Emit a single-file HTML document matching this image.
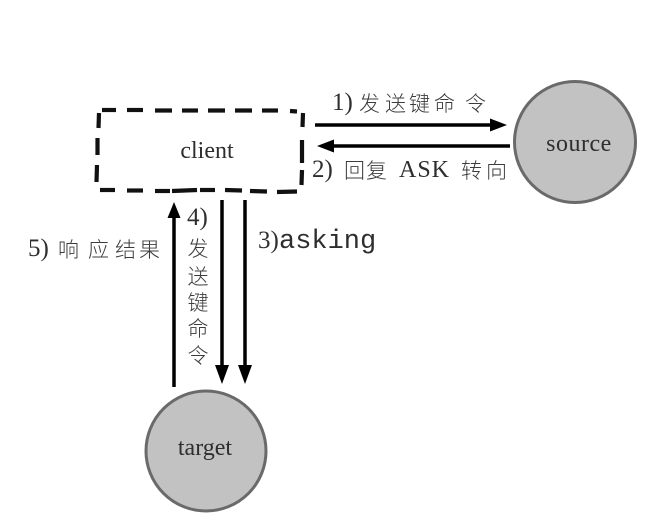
<!DOCTYPE html>
<html>
<head>
<meta charset="utf-8">
<style>
  html,body{margin:0;padding:0;background:#fff;}
  svg{display:block;}
  .serif{font-family:"Liberation Serif","Noto Serif CJK SC",serif;fill:#2e2e2e;}
  .cjk{font-family:"Noto Sans CJK SC","WenQuanYi Zen Hei",sans-serif;fill:#3c3c3c;font-weight:300;}
  .mono{font-family:"Liberation Mono",monospace;fill:#2e2e2e;}
</style>
</head>
<body>
<svg width="653" height="524" viewBox="0 0 653 524" xmlns="http://www.w3.org/2000/svg">
  <rect width="653" height="524" fill="#fff"/>

  <!-- client dashed box -->
  <g stroke="#111" stroke-width="4.2" stroke-linecap="butt" fill="none">
    <!-- top -->
    <line x1="102" y1="110" x2="116" y2="110"/>
    <line x1="127" y1="110" x2="143" y2="110"/>
    <line x1="155" y1="110.5" x2="172" y2="110.5"/>
    <line x1="182" y1="110.5" x2="198" y2="110.5"/>
    <line x1="208" y1="110.5" x2="225" y2="110.5"/>
    <line x1="235" y1="110.5" x2="252" y2="110.5"/>
    <line x1="262" y1="110.5" x2="278" y2="110.5"/>
    <line x1="290" y1="111" x2="297" y2="111.5"/>
    <!-- left -->
    <line x1="99" y1="113" x2="98.5" y2="128"/>
    <line x1="97.5" y1="138" x2="97.5" y2="155"/>
    <line x1="97" y1="165" x2="96.5" y2="182"/>
    <!-- right -->
    <line x1="303" y1="113" x2="302.5" y2="127"/>
    <line x1="302" y1="140" x2="302" y2="163"/>
    <line x1="302" y1="170" x2="301.5" y2="185"/>
    <!-- bottom -->
    <line x1="100" y1="190" x2="115" y2="190"/>
    <line x1="127" y1="190.5" x2="143" y2="190.5"/>
    <line x1="155" y1="191" x2="170" y2="191"/>
    <line x1="172" y1="191" x2="197" y2="190"/>
    <line x1="200" y1="190" x2="215" y2="190"/>
    <line x1="225" y1="190" x2="242" y2="190.5"/>
    <line x1="250" y1="191" x2="267" y2="191.5"/>
    <line x1="277" y1="192" x2="297" y2="191.5"/>
  </g>
  <text class="serif" x="207" y="158" font-size="24" text-anchor="middle">client</text>

  <!-- source circle -->
  <circle cx="575" cy="142" r="60.5" fill="#c2c2c2" stroke="#6a6a6a" stroke-width="3"/>
  <text class="serif" x="579" y="151" font-size="24" text-anchor="middle" letter-spacing="0.5">source</text>

  <!-- target circle -->
  <circle cx="206" cy="451" r="60" fill="#c2c2c2" stroke="#6a6a6a" stroke-width="3"/>
  <text class="serif" x="205" y="455" font-size="24" text-anchor="middle">target</text>

  <!-- arrows -->
  <g stroke="#000" stroke-width="3.5" fill="none">
    <line x1="315" y1="125" x2="494" y2="125"/>
    <line x1="510" y1="146" x2="331" y2="146"/>
    <line x1="174" y1="387" x2="174" y2="214"/>
    <line x1="222" y1="200" x2="222" y2="370"/>
    <line x1="245" y1="200" x2="245" y2="370"/>
  </g>
  <g fill="#000">
    <polygon points="507,125 490,118.5 490,131.5"/>
    <polygon points="317,146 334,139.5 334,152.5"/>
    <polygon points="174,202 167.5,218 180.5,218"/>
    <polygon points="222,384 215,365 229,365"/>
    <polygon points="245,384 238,365 252,365"/>
  </g>

  <!-- label 1 -->
  <text class="serif" x="332" y="110" font-size="25">1)</text>
  <text class="cjk" y="111" font-size="21">
    <tspan x="359">发</tspan><tspan x="385">送</tspan><tspan x="409">键</tspan><tspan x="434">命</tspan><tspan x="465">令</tspan>
  </text>

  <!-- label 2 -->
  <text class="serif" x="312" y="177" font-size="25">2)</text>
  <text class="cjk" y="178" font-size="21"><tspan x="344">回</tspan><tspan x="366">复</tspan></text>
  <text class="serif" x="399" y="177" font-size="24" letter-spacing="1">ASK</text>
  <text class="cjk" y="178" font-size="21"><tspan x="461">转</tspan><tspan x="486">向</tspan></text>

  <!-- label 5 -->
  <text class="serif" x="28" y="256" font-size="25">5)</text>
  <text class="cjk" y="257" font-size="21"><tspan x="58">响</tspan><tspan x="88">应</tspan><tspan x="115">结</tspan><tspan x="139">果</tspan></text>

  <!-- label 3 -->
  <text class="serif" x="258" y="248" font-size="25">3)</text>
  <text class="mono" x="279" y="248" font-size="27">asking</text>

  <!-- label 4 vertical -->
  <text class="serif" x="187" y="225" font-size="25">4)</text>
  <g class="cjk" font-size="21" text-anchor="middle">
    <text x="198" y="256">发</text>
    <text x="198" y="284">送</text>
    <text x="198" y="310">键</text>
    <text x="198" y="336">命</text>
    <text x="198" y="363">令</text>
  </g>
</svg>
</body>
</html>
